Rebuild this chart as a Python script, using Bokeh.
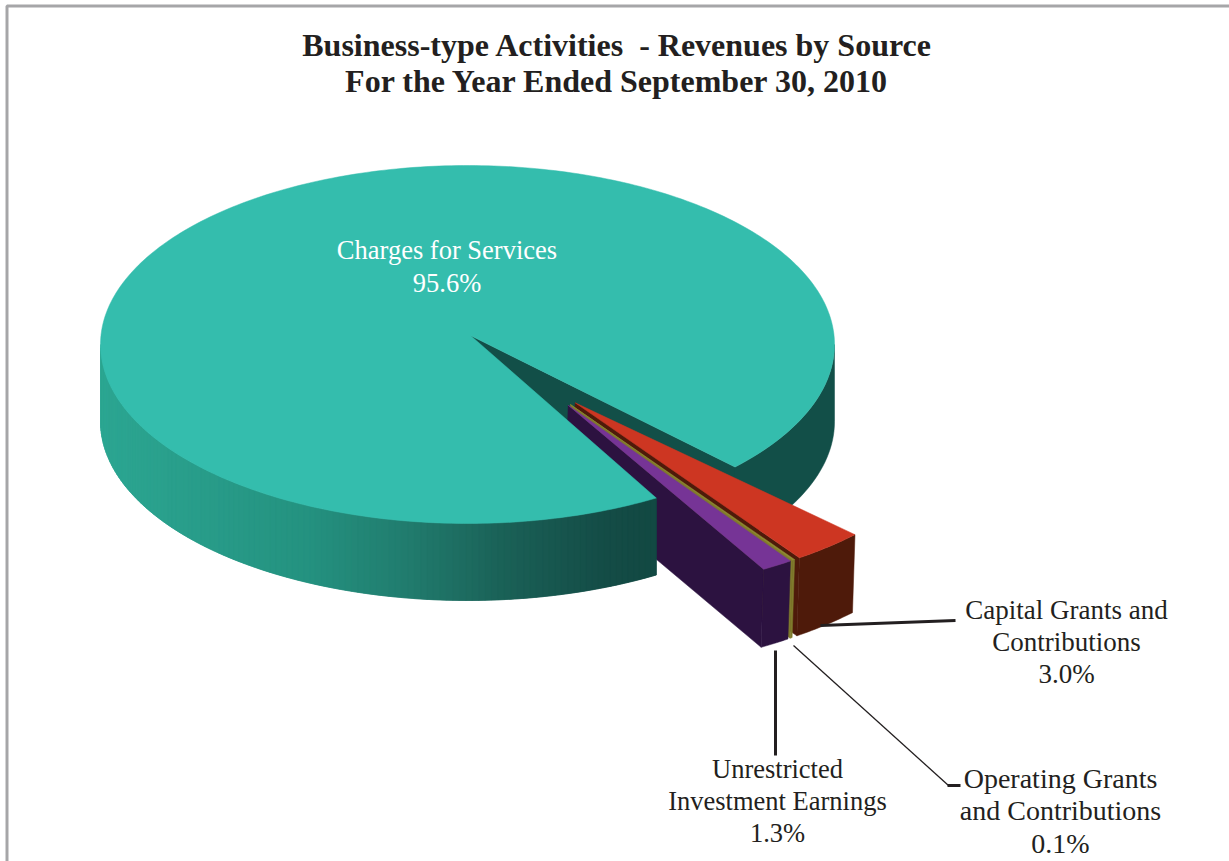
import math

from bokeh.core.properties import value
from bokeh.embed import file_html
from bokeh.models import ColumnDataSource, Range1d
from bokeh.plotting import figure
from bokeh.resources import INLINE

# Revenue shares, in percent, going clockwise from the main slice
categories = ["Charges for Services", "Capital Grants and Contributions",
              "Operating Grants and Contributions", "Unrestricted Investment Earnings"]
shares = [95.6, 3.0, 0.1, 1.3]
share_labels = ["95.6%", "3.0%", "0.1%", "1.3%"]
title_lines = ["Business-type Activities\u00a0\u00a0- Revenues by Source",
               "For the Year Ended September 30, 2010"]

top_colors = ["#34bdad", "#cd3622", "#8f8b32", "#763496"]
wall_colors = ["#124f48", "#4e1a0a", "#7f7a2c", "#2c1240"]
INK = "#231f20"
FONT = "Liberation Serif"

# Shading of the main slice's front wall, by screen x
WALL_STOPS = [(100, (44, 166, 146)), (300, (36, 146, 128)), (400, (33, 124, 110)),
              (500, (26, 96, 86)), (600, (20, 76, 70)), (655, (18, 72, 66))]

# Projection of the disc onto the page
CX, CY, RX, RY = 467.0, 344.0, 367.0, 179.0
HUB = (470.0, 335.0)
DEPTH_MAIN = 77.0
DEPTH_OUT = 78.0
OUT_SCALE = 1.06
OUT_LEAN = -2.5      # the lower edge of a pulled-out slice sits slightly to the left
EXPLODE = 0.472
FIRST_END = 43.2     # clockwise angle below the right-hand horizontal where Charges stops
OUT_START = 44.0     # the pulled-out slices start a little further round in perspective


def rim(t, cx=CX, cy=CY, scale=1.0):
    r = math.radians(t)
    return cx + scale * RX * math.cos(r), cy + scale * RY * math.sin(r)


def wall_color(x):
    if x <= WALL_STOPS[0][0]:
        c = WALL_STOPS[0][1]
    elif x >= WALL_STOPS[-1][0]:
        c = WALL_STOPS[-1][1]
    else:
        for (x0, c0), (x1, c1) in zip(WALL_STOPS, WALL_STOPS[1:]):
            if x0 <= x <= x1:
                f = (x - x0) / (x1 - x0)
                c = tuple(c0[i] + f * (c1[i] - c0[i]) for i in range(3))
                break
    return "#%02x%02x%02x" % tuple(int(round(v)) for v in c)


def arc(t0, t1, n=60, **kw):
    return [rim(t0 + (t1 - t0) * i / n, **kw) for i in range(n + 1)]


xs, ys, colors = [], [], []


def add(points, color):
    xs.append([p[0] for p in points])
    ys.append([p[1] for p in points])
    colors.append(color)


sweeps = [s * 3.6 for s in shares]
main_start = FIRST_END + sum(sweeps[1:])        # where Charges begins
main_stop = main_start + sweeps[0]              # equals FIRST_END + 360

# Main slice: dark wall on the right and the open cut
right = arc(0, FIRST_END, 30)
add(right + [(x, y + DEPTH_MAIN) for x, y in reversed(right)], wall_colors[0])
cut_end = rim(FIRST_END)
add([HUB, cut_end, (cut_end[0], cut_end[1] + DEPTH_MAIN), (HUB[0], HUB[1] + DEPTH_MAIN)],
    wall_colors[0])

# Pulled-out slices: walls go under the main slice, tops go over it
pivot = OUT_START + sum(sweeps[1:3]) - sweeps[2] / 2 - 0.3
tops = []
angle = OUT_START
for k in range(1, len(shares)):
    t0, t1 = angle, angle + sweeps[k]
    angle = t1
    mid = (t0 + t1) / 2
    push = math.radians(pivot + 0.35 * (mid - pivot))
    hx = HUB[0] + EXPLODE * RX * math.cos(push)
    hy = HUB[1] + EXPLODE * RY * math.sin(push)
    outer = arc(t0, t1, 16, cx=hx, cy=hy, scale=OUT_SCALE)
    add([(hx, hy), outer[-1], (outer[-1][0] + OUT_LEAN, outer[-1][1] + DEPTH_OUT),
         (hx + OUT_LEAN, hy + DEPTH_OUT)], wall_colors[k])
    add(outer + [(x + OUT_LEAN, y + DEPTH_OUT) for x, y in reversed(outer)], wall_colors[k])
    tops.append(([(hx, hy)] + outer, top_colors[k]))

# Shaded front wall, painted from the dark end so each strip laps over the last
steps = 120
for i in range(steps):
    a0 = main_start + (180 - main_start) * i / steps
    a1 = main_start + (180 - main_start) * (i + 1) / steps
    back = main_start if i == 0 else a0 - (180 - main_start) / steps
    p0, p1 = rim(back), rim(a1)
    add([p0, p1, (p1[0], p1[1] + DEPTH_MAIN), (p0[0], p0[1] + DEPTH_MAIN)],
        wall_color(rim((a0 + a1) / 2)[0]))

add([HUB] + arc(main_start, main_stop, 360), top_colors[0])
for points, color in tops:
    add(points, color)

p = figure(width=1229, height=861, output_backend="svg", toolbar_location=None,
           x_range=Range1d(0, 1229), y_range=Range1d(861, 0),
           min_border=0, outline_line_color=None, background_fill_color="white",
           border_fill_color="white")
p.axis.visible = False
p.grid.visible = False

# Page frame: top and left rules only
p.line([6.5, 6.5, 1229], [861, 5.5, 5.5], line_color="#a6a6a8", line_width=3)

p.patches("xs", "ys", fill_color="colors", line_color="colors", line_width=0.5,
          source=ColumnDataSource(dict(xs=xs, ys=ys, colors=colors)))

# Leader lines
p.line([820, 955], [625, 620], line_color=INK, line_width=3)
p.line([775, 775], [650, 755], line_color=INK, line_width=3)
p.line([793, 948], [645, 785], line_color=INK, line_width=1.3)
p.line([947, 960], [785, 785], line_color=INK, line_width=3)


def label(x, y, lines, size, color=INK, style="normal", step=32.5):
    for i, line in enumerate(lines):
        p.text([x], [y + i * step], text=[line], text_font=value(FONT),
               text_font_size=size, text_color=color, text_font_style=style,
               text_align="center", text_baseline="middle")


label(617, 44, title_lines, "32px", style="bold", step=36)
label(446.5, 249, [categories[0], share_labels[0]], "26.5px", color="white", step=33)
label(1066, 609, ["Capital Grants and", "Contributions", share_labels[1]], "27px", step=32)
label(777, 768, ["Unrestricted", "Investment Earnings", share_labels[3]], "26.5px", step=32)
label(1060, 777.5, ["Operating Grants", "and Contributions", share_labels[2]], "28px")

open("out.html", "w").write(file_html(p, INLINE))
